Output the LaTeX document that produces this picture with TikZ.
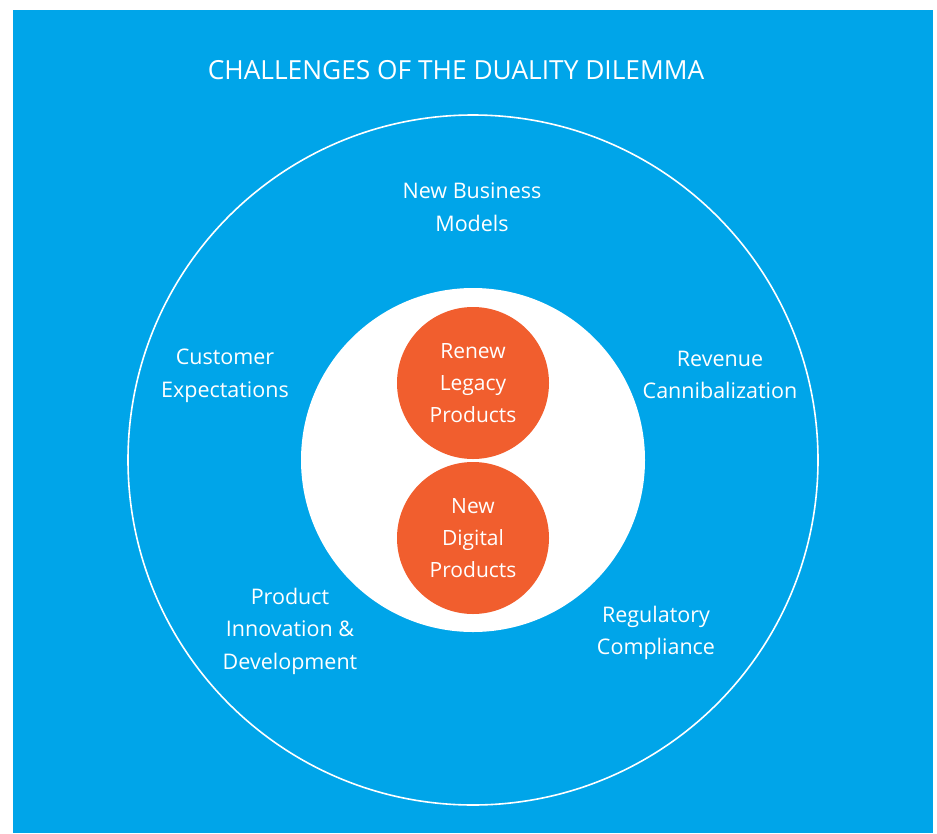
\documentclass[tikz,border=0pt]{standalone}
\usepackage{fontspec}
\setmainfont{Open Sans}
\usetikzlibrary{positioning}
\definecolor{dilemmablue}{HTML}{00A5E9}
\definecolor{dilemmaorange}{HTML}{F15E2E}

\begin{document}
\begin{tikzpicture}[x=1pt, y=-1pt,
	challenge/.style={text=white, align=center, font=\fontsize{21.5}{32.5}\selectfont},
	product/.style={circle, fill=dilemmaorange, minimum size=152pt, inner sep=0pt, text=white, align=center, font=\fontsize{21}{32}\selectfont}]
				\useasboundingbox (0,0) rectangle (937,833);
				\fill[dilemmablue] (13,10) rectangle (933,833);
				
				% Titolo
				\node[text=white, font=\fontsize{26.3}{30}\selectfont] (titolo) at (456,70) {CHALLENGES OF THE DUALITY DILEMMA};
				
				% Cerchi
				\node[circle, draw=white, line width=1.6pt, minimum size=690pt, inner sep=0pt] (esterno) at (473,460) {};
				\node[circle, fill=white, minimum size=344pt, inner sep=0pt] (interno) at (473,460) {};
				\node[product] (legacy) at (473,383) {Renew\\Legacy\\Products};
				\node[product] (digital) at (473,538) {New\\Digital\\Products};
				
				% Sfide
				\node[challenge] (business) at (472,207) {New Business\\Models};
				\node[challenge] (customer) at (225,376) {Customer\\Expectations};
				\node[challenge] (revenue) at (720,375) {Revenue\\Cannibalization};
				\node[challenge] (innovation) at (290,631) {Product\\Innovation \&\\Development};
				\node[challenge] (regulatory) at (656,633) {Regulatory\\Compliance};
			\end{tikzpicture}
\end{document}
